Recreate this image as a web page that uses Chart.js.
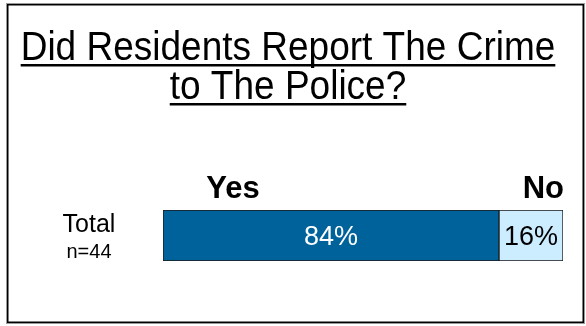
<!DOCTYPE html>
<html>
<head>
<meta charset="utf-8">
<script src="https://cdn.jsdelivr.net/npm/chart.js@4/dist/chart.umd.min.js"></script>
<style>
  html, body { margin: 0; padding: 0; background: #fff; }
  canvas { display: block; }
</style>
</head>
<body>
<canvas id="chart" width="586" height="326"></canvas>
<script>
// Survey result: share of residents who reported the crime
const titleLines = ['Did Residents Report The Crime', 'to The Police?'];
const categories = ['Total'];
const sampleSizes = ['n=44'];
const seriesNames = ['Yes', 'No'];
const yesValues = [84];
const noValues = [16];
const seriesColors = ['#00629B', '#CCECFF'];
const labelColors = ['#FFFFFF', '#000000'];

const FONT = '"Liberation Sans", Arial, Helvetica, sans-serif';

const decorations = {
  id: 'decorations',
  beforeDraw(chart) {
    const ctx = chart.ctx;
    ctx.save();
    ctx.fillStyle = '#fff';
    ctx.fillRect(0, 0, chart.width, chart.height);
    // frame with soft shadow edge
    ctx.strokeStyle = '#9a9a9a';
    ctx.lineWidth = 1;
    ctx.strokeRect(6.5, 3.5, 578, 320);
    ctx.strokeStyle = '#000';
    ctx.lineWidth = 1.5;
    ctx.strokeRect(7.75, 4.75, 575.5, 317.5);
    ctx.restore();
  },
  afterDraw(chart) {
    const ctx = chart.ctx;
    const area = chart.chartArea;
    ctx.save();
    // underlined two-line title, slightly condensed
    ctx.fillStyle = '#000';
    ctx.font = '40px ' + FONT;
    ctx.textAlign = 'center';
    ctx.textBaseline = 'alphabetic';
    const cx = 288;
    const squeeze = 0.925;
    const baselines = [60, 99];
    titleLines.forEach((line, i) => {
      const w = ctx.measureText(line).width * squeeze;
      ctx.save();
      ctx.translate(cx, baselines[i]);
      ctx.scale(squeeze, 1);
      ctx.fillText(line, 0, 0);
      ctx.restore();
      ctx.fillRect(cx - w / 2, baselines[i] + 4, w, 2.5);
    });
    // series headings above the bar
    ctx.font = 'bold 31px ' + FONT;
    ctx.textAlign = 'center';
    ctx.fillText(seriesNames[0], area.left + 70, 198);
    ctx.textAlign = 'right';
    ctx.fillText(seriesNames[1], area.right + 1, 198);
    // category label with sample size
    const yScale = chart.scales.y;
    categories.forEach((cat, i) => {
      const y = yScale.getPixelForValue(i);
      ctx.textAlign = 'center';
      ctx.font = '25px ' + FONT;
      ctx.fillText(cat, 89, y - 4);
      ctx.font = '20px ' + FONT;
      ctx.fillText(sampleSizes[i], 89, y + 22);
    });
    ctx.restore();
  },
  afterDatasetsDraw(chart) {
    const ctx = chart.ctx;
    ctx.save();
    ctx.font = '27px ' + FONT;
    ctx.textAlign = 'center';
    ctx.textBaseline = 'alphabetic';
    chart.data.datasets.forEach((ds, di) => {
      const meta = chart.getDatasetMeta(di);
      meta.data.forEach((bar, i) => {
        const props = bar.getProps(['x', 'y', 'base'], true);
        const mid = (props.x + props.base) / 2;
        ctx.fillStyle = labelColors[di];
        ctx.fillText(ds.data[i] + '%', mid, props.y + 9);
      });
    });
    ctx.restore();
  }
};

new Chart(document.getElementById('chart'), {
  type: 'bar',
  data: {
    labels: categories,
    datasets: [
      { label: seriesNames[0], data: yesValues, backgroundColor: seriesColors[0] },
      { label: seriesNames[1], data: noValues, backgroundColor: seriesColors[1] }
    ].map(ds => Object.assign(ds, {
      borderColor: '#1a1a1a',
      borderWidth: 1,
      borderSkipped: false,
      barPercentage: 1,
      categoryPercentage: 1
    }))
  },
  options: {
    indexAxis: 'y',
    responsive: false,
    animation: false,
    layout: { padding: { left: 163, right: 23, top: 210, bottom: 65 } },
    scales: {
      x: { stacked: true, min: 0, max: 100, display: false },
      y: { stacked: true, display: false }
    },
    plugins: {
      legend: { display: false },
      title: { display: false },
      tooltip: { enabled: false }
    }
  },
  plugins: [decorations]
});
</script>
</body>
</html>
